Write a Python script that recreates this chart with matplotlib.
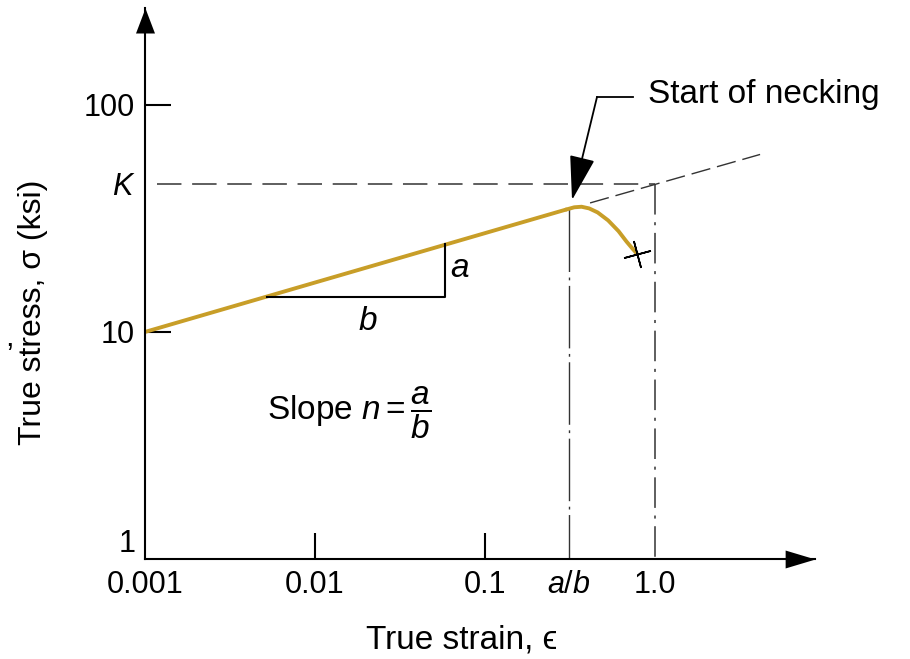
import matplotlib
matplotlib.use("Agg")
import matplotlib.pyplot as plt
from matplotlib.ticker import NullFormatter

plt.rcParams["font.family"] = ["Liberation Sans", "DejaVu Sans"]
plt.rcParams["mathtext.fontset"] = "custom"
plt.rcParams["mathtext.rm"] = "Liberation Sans"
plt.rcParams["mathtext.it"] = "Liberation Sans:italic"

# values
strain_line = [0.001, 0.30]
stress_line = [10, 34.6]
strain_neck = [0.30, 0.335, 0.37, 0.41, 0.46, 0.53, 0.61, 0.68, 0.74, 0.78]
stress_neck = [34.6, 35.4, 35.6, 35.0, 33.6, 31.0, 27.8, 25.0, 23.2, 22.2]
fracture = (0.78, 22.0)
ext_strain = [0.415, 4.15]
ext_stress = [37.0, 60.5]
K = 45
a_over_b = 0.31
tri_strain = [0.0052, 0.058, 0.058]
tri_stress = [14.3, 14.3, 24.4]

xticks = [0.001, 0.01, 0.1, a_over_b, 1.0]
xticklabels = ["0.001", "0.01", "0.1", "$a/b$", "1.0"]
yticks = [1, 10, K, 100]
yticklabels = ["1", "10", "$K$", "100"]
xmarks = [0.01, 0.1]
ymarks = [10, 100]

GOLD = "#C89E28"
GREY = "#333333"


def main():
    """draw the flow curve sketch"""
    fig = plt.figure(figsize=(9.10, 6.59), dpi=100)
    ax = fig.add_axes([0.1593, 0.1517, 0.7363, 0.8361])
    ax.set_xscale("log")
    ax.set_yscale("log")
    ax.set_xlim(1e-3, 8.73)
    ax.set_ylim(1, 267)

    for s in ["top", "right"]:
        ax.spines[s].set_visible(False)
    for s in ["left", "bottom"]:
        ax.spines[s].set_linewidth(1.5)

    # axis arrows
    ax.plot([1], [0], transform=ax.transAxes, clip_on=False, color="k",
            marker=[(0, 0), (-1, -0.3), (-1, 0.3), (0, 0)], ms=43, mew=0)
    ax.plot([0], [1], transform=ax.transAxes, clip_on=False, color="k",
            marker=[(0, 0), (-0.38, -1), (0.38, -1), (0, 0)], ms=36, mew=0)

    ax.xaxis.remove_overlapping_locs = False
    ax.yaxis.remove_overlapping_locs = False
    ax.set_xticks(xticks, xticklabels)
    ax.set_yticks(yticks, yticklabels)
    ax.set_xticks(xmarks, minor=True)
    ax.set_yticks(ymarks, minor=True)
    ax.xaxis.set_minor_formatter(NullFormatter())
    ax.yaxis.set_minor_formatter(NullFormatter())
    ax.tick_params(which="major", length=0, labelsize=22)
    ax.tick_params(axis="x", which="major", pad=8)
    ax.tick_params(axis="y", which="major", pad=7)
    ax.tick_params(which="minor", direction="in", length=19, width=1.5)
    ax.get_yticklabels()[0].set_va("bottom")

    # reference lines
    ax.plot([0.00117, 1.0], [K, K], color=GREY, lw=1.1, dashes=(16, 7))
    ax.plot([1.0, 1.0], [K, 1], color=GREY, lw=1.1, dashes=(20, 5, 2, 5))
    ax.plot([a_over_b, a_over_b], [34.8, 1], color=GREY, lw=1.0,
            dashes=(45, 4, 2, 4))
    ax.plot(ext_strain, ext_stress, color=GREY, lw=1.0, dashes=(14, 5))

    # flow curve
    ax.plot(strain_line, stress_line, color=GOLD, lw=2.8,
            solid_capstyle="round")
    ax.plot(strain_neck, stress_neck, color=GOLD, lw=2.8,
            solid_capstyle="round")
    ax.plot([fracture[0]], [fracture[1]], color="k", ls="none",
            marker=(4, 2, 15), ms=20, mew=1.2)

    # slope triangle
    ax.plot(tri_strain, tri_stress, color="k", lw=1.5)
    ax.text(0.0713, 19.1, "a", style="italic", fontsize=24,
            ha="center", va="center")
    ax.text(0.0205, 11.1, "b", style="italic", fontsize=24,
            ha="center", va="center")
    ax.text(0.0158, 4.4, r"Slope $n = \dfrac{a}{b}$", fontsize=24,
            ha="center", va="center")

    # necking annotation
    ax.plot([0.456, 0.743], [108.4, 108.4], color="k", lw=1.3)
    ax.annotate("", xy=(0.325, 38.1), xytext=(0.456, 108.4),
                arrowprops=dict(arrowstyle="-|>,head_length=1.4,head_width=0.4",
                                mutation_scale=20, color="k", lw=1.3,
                                shrinkA=0, shrinkB=0))
    ax.text(0.91, 110.7, "Start of necking", fontsize=24,
            ha="left", va="center")

    ax.set_xlabel("True strain, \u03f5", fontsize=24, va="center")
    ax.set_ylabel("True stress, \u03c3 (ksi)", fontsize=23, va="center")
    ax.xaxis.set_label_coords(0.472, -0.147)
    ax.yaxis.set_label_coords(-0.167, 0.448)
    fig.text(5 / 910, 1 - 338 / 659, ",", fontsize=22, va="center")

    fig.savefig("out.png", dpi=100)


if __name__ == "__main__":
    main()
